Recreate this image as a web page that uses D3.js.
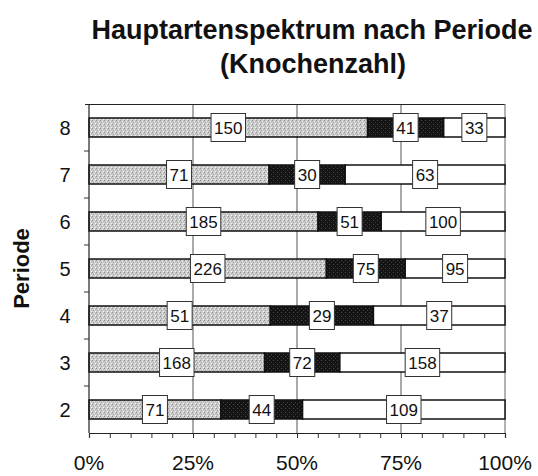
<!DOCTYPE html>
<html>
<head>
<meta charset="utf-8">
<script src="https://cdn.jsdelivr.net/npm/d3@7"></script>
<style>
  body { margin: 0; background: #fff; }
  svg { display: block; font-family: "Liberation Sans", Arial, sans-serif; }
</style>
</head>
<body>
<div id="chart"></div>
<script>
// Knochenzahl pro Periode (oben nach unten)
const perioden = ["8", "7", "6", "5", "4", "3", "2"];
const serieGrau = [150, 71, 185, 226, 51, 168, 71];
const serieSchwarz = [41, 30, 51, 75, 29, 72, 44];
const serieWeiss = [33, 63, 100, 95, 37, 158, 109];
const tickLabels = ["0%", "25%", "50%", "75%", "100%"];

const width = 538, height = 476;
const margin = {top: 104, right: 33, bottom: 43, left: 89};

let svg = d3.select("#chart")
    .append("svg")
    .attr("width", width)
    .attr("height", height);

// stipple textures
let defs = svg.append("defs");
let pg = defs.append("pattern").attr("id", "grau")
    .attr("patternUnits", "userSpaceOnUse").attr("width", 4).attr("height", 4);
pg.append("rect").attr("width", 4).attr("height", 4).attr("fill", "#cdcdcd");
[[0, 0, "#8a8a8a"], [2, 1, "#eeeeee"], [1, 2, "#a0a0a0"], [3, 3, "#f2f2f2"], [3, 1, "#adadad"]]
    .forEach(function (p) {
        pg.append("rect").attr("x", p[0]).attr("y", p[1]).attr("width", 1).attr("height", 1).attr("fill", p[2]);
    });
let pb = defs.append("pattern").attr("id", "schwarz")
    .attr("patternUnits", "userSpaceOnUse").attr("width", 4).attr("height", 4);
pb.append("rect").attr("width", 4).attr("height", 4).attr("fill", "#141414");
[[1, 0, "#4a4a4a"], [3, 2, "#3a3a3a"]].forEach(function (p) {
    pb.append("rect").attr("x", p[0]).attr("y", p[1]).attr("width", 1).attr("height", 1).attr("fill", p[2]);
});

const x = d3.scaleLinear().domain([0, 1]).range([margin.left, width - margin.right]);
const y = d3.scaleBand().domain(perioden).range([margin.top, height - margin.bottom]);
const barH = 19;

// title
svg.append("text").attr("x", 312).attr("y", 39).attr("text-anchor", "middle")
    .style("font-size", "27px").style("font-weight", "bold").attr("fill", "#111")
    .text("Hauptartenspektrum nach Periode");
svg.append("text").attr("x", 313).attr("y", 73).attr("text-anchor", "middle")
    .style("font-size", "27px").style("font-weight", "bold").attr("fill", "#111")
    .text("(Knochenzahl)");

// grid lines
svg.append("g").selectAll("line")
    .data([0.25, 0.5, 0.75])
    .enter().append("line")
    .attr("x1", d => x(d)).attr("x2", d => x(d))
    .attr("y1", margin.top).attr("y2", height - margin.bottom)
    .attr("stroke", "#555").attr("stroke-width", 1);

// frame top + right
svg.append("line").attr("x1", x(0) - 4).attr("x2", x(1))
    .attr("y1", margin.top + 0.5).attr("y2", margin.top + 0.5)
    .attr("stroke", "#222").attr("stroke-width", 1.2);
svg.append("line").attr("x1", x(1)).attr("x2", x(1))
    .attr("y1", margin.top).attr("y2", height - margin.bottom)
    .attr("stroke", "#666").attr("stroke-width", 1);

// stacked data
const rows = perioden.map(function (p, i) {
    const vals = [serieGrau[i], serieSchwarz[i], serieWeiss[i]];
    const total = d3.sum(vals);
    let acc = 0;
    return vals.map(function (v, k) {
        const seg = {periode: p, value: v, k: k, x0: acc / total, x1: (acc + v) / total};
        acc += v;
        return seg;
    });
});
const fills = ["url(#grau)", "url(#schwarz)", "#ffffff"];

let bars = svg.append("g");
rows.forEach(function (segs) {
    bars.selectAll(null)
        .data(segs)
        .enter().append("rect")
        .attr("x", d => x(d.x0))
        .attr("width", d => x(d.x1) - x(d.x0))
        .attr("y", d => y(d.periode) + y.bandwidth() / 2 - barH / 2)
        .attr("height", barH)
        .attr("fill", d => fills[d.k])
        .attr("stroke", "#111").attr("stroke-width", 1.5);
});

// value labels
let labels = svg.append("g");
rows.forEach(function (segs) {
    let g = labels.selectAll(null).data(segs).enter().append("g")
        .attr("transform", d => "translate(" + x((d.x0 + d.x1) / 2) + "," + (y(d.periode) + y.bandwidth() / 2) + ")");
    g.append("rect")
        .attr("x", d => -(String(d.value).length * 9.5 + 6) / 2)
        .attr("width", d => String(d.value).length * 9.5 + 6)
        .attr("y", -14).attr("height", 28)
        .attr("fill", "#fff").attr("stroke", "#333").attr("stroke-width", 1);
    g.append("text").attr("text-anchor", "middle").attr("dy", "0.36em")
        .style("font-size", "17px").attr("fill", "#111")
        .text(d => d.value);
});

// x axis
const xAxis = d3.axisBottom(x).tickValues(d3.range(0, 1.0001, 0.05)).tickSize(5).tickFormat("");
svg.append("g").attr("transform", "translate(0," + (height - margin.bottom) + ")")
    .call(xAxis)
    .call(g => g.select(".domain").attr("stroke", "#222").attr("stroke-width", 1.2))
    .call(g => g.selectAll(".tick line").attr("stroke", "#333"));
svg.append("g").selectAll("text")
    .data(tickLabels)
    .enter().append("text")
    .attr("x", (d, i) => x(i * 0.25))
    .attr("y", 470)
    .attr("text-anchor", "middle")
    .style("font-size", "21px").attr("fill", "#111")
    .text(d => d);

// y axis
svg.append("line").attr("x1", x(0)).attr("x2", x(0))
    .attr("y1", margin.top).attr("y2", height - margin.bottom)
    .attr("stroke", "#222").attr("stroke-width", 1.2);
svg.append("g").selectAll("line")
    .data(perioden.slice(1))
    .enter().append("line")
    .attr("x1", x(0) - 5).attr("x2", x(0))
    .attr("y1", d => y(d)).attr("y2", d => y(d))
    .attr("stroke", "#333");
svg.append("g").selectAll("text")
    .data(perioden)
    .enter().append("text")
    .attr("x", 65).attr("y", d => y(d) + y.bandwidth() / 2)
    .attr("dy", "0.36em").attr("text-anchor", "middle")
    .style("font-size", "20px").attr("fill", "#111")
    .text(d => d);

svg.append("text")
    .attr("transform", "translate(29," + ((margin.top + height - margin.bottom) / 2) + ") rotate(-90)")
    .attr("text-anchor", "middle")
    .style("font-size", "22px").style("font-weight", "bold").attr("fill", "#111")
    .text("Periode");
</script>
</body>
</html>
